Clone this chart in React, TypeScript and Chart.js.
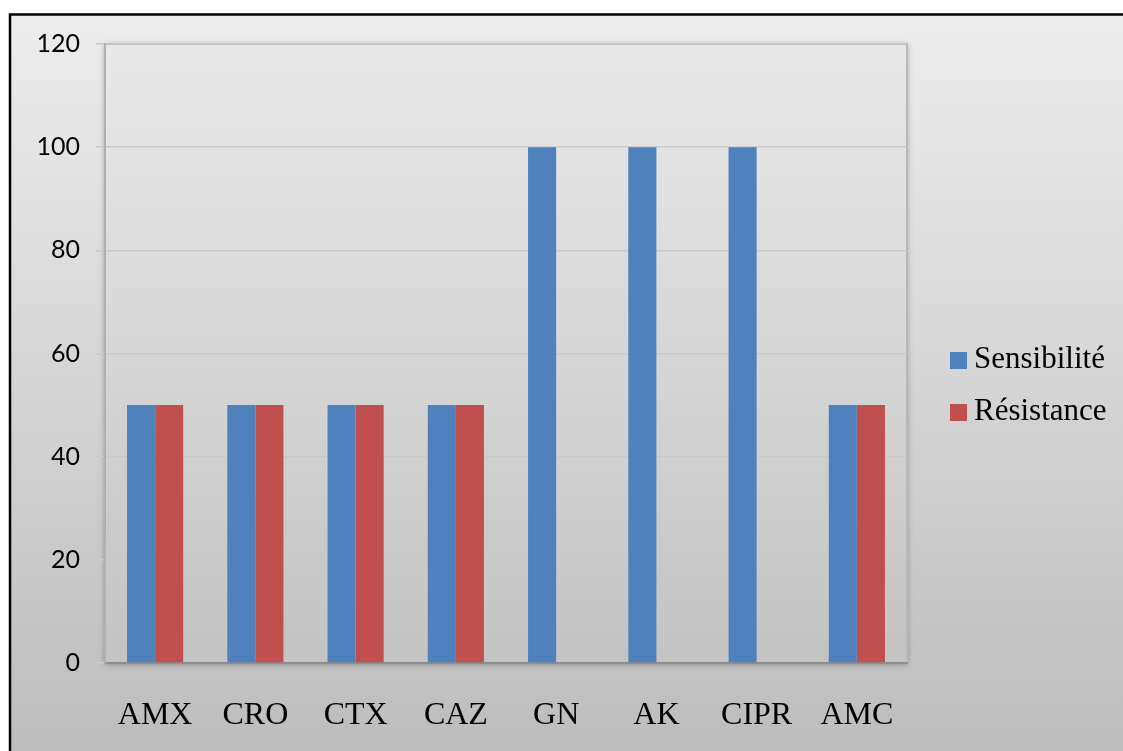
import React, { useEffect, useRef } from 'react';
import { Chart, registerables } from 'chart.js';

Chart.register(...registerables);

const categories = ['AMX', 'CRO', 'CTX', 'CAZ', 'GN', 'AK', 'CIPR', 'AMC'];
const sensibilite = [50, 50, 50, 50, 100, 100, 100, 50];
const resistance = [50, 50, 50, 50, 0, 0, 0, 50];
const seriesNames = ['Sensibilité', 'Résistance'];
const seriesColors = ['#4f81bd', '#c0504d'];
const yMin = 0;
const yMax = 120;
const yStep = 20;

const W = 1123;
const H = 751;

const backgroundPlugin = {
  id: 'bgPlugin',
  beforeDraw(chart: any) {
    const ctx = chart.ctx;
    const a = chart.chartArea;
    ctx.save();
    ctx.fillStyle = '#ffffff';
    ctx.fillRect(0, 0, W, H);
    const g = ctx.createLinearGradient(0, 15, 0, H);
    g.addColorStop(0, '#ededed');
    g.addColorStop(1, '#bdbdbd');
    ctx.fillStyle = g;
    ctx.fillRect(10, 15, W - 10, H - 15);
    ctx.strokeStyle = '#000000';
    ctx.lineWidth = 2.5;
    ctx.beginPath();
    ctx.moveTo(10, H);
    ctx.lineTo(10, 14.5);
    ctx.lineTo(W, 14.5);
    ctx.stroke();

    ctx.save();
    ctx.shadowColor = 'rgba(0,0,0,0.35)';
    ctx.shadowBlur = 6;
    ctx.shadowOffsetX = 0;
    ctx.shadowOffsetY = 1;
    const pg = ctx.createLinearGradient(0, a.top, 0, a.bottom);
    pg.addColorStop(0, '#e9e9e9');
    pg.addColorStop(1, '#c3c3c3');
    ctx.fillStyle = pg;
    ctx.fillRect(a.left, a.top, a.right - a.left, a.bottom - a.top);
    ctx.restore();
    ctx.strokeStyle = '#b8b8b8';
    ctx.lineWidth = 2;
    ctx.beginPath();
    ctx.moveTo(a.left, a.top);
    ctx.lineTo(a.right, a.top);
    ctx.lineTo(a.right, a.bottom);
    ctx.stroke();
    ctx.restore();
  },
  afterDraw(chart: any) {
    const ctx = chart.ctx;
    const a = chart.chartArea;
    ctx.save();
    ctx.font = '31px "Liberation Serif", "Times New Roman", serif';
    ctx.textBaseline = 'middle';
    ctx.textAlign = 'left';
    chart.data.datasets.forEach((ds: any, i: number) => {
      const cy = 360 + i * 52;
      const x = a.right + 43;
      ctx.fillStyle = ds.backgroundColor;
      ctx.fillRect(x, cy - 8, 17, 17);
      ctx.fillStyle = '#000000';
      ctx.fillText(ds.label, x + 24, cy);
    });
    ctx.restore();
  },
};

export default function App() {
  const ref = useRef<HTMLCanvasElement | null>(null);
  useEffect(() => {
    if (!ref.current) return;
    const chart = new Chart(ref.current, {
      type: 'bar',
      data: {
        labels: categories,
        datasets: [
          {
            label: seriesNames[0],
            data: sensibilite,
            backgroundColor: seriesColors[0],
            categoryPercentage: 0.56,
            barPercentage: 1,
          },
          {
            label: seriesNames[1],
            data: resistance,
            backgroundColor: seriesColors[1],
            categoryPercentage: 0.56,
            barPercentage: 1,
          },
        ],
      },
      options: {
        responsive: false,
        animation: false,
        devicePixelRatio: 1,
        layout: { padding: { top: 44, right: 216, left: 0, bottom: 0 } },
        plugins: {
          legend: { display: false },
          tooltip: { enabled: false },
        },
        scales: {
          x: {
            grid: { display: false, drawTicks: false },
            border: { display: true, color: '#8e8e8e', width: 2 },
            ticks: {
              color: '#000000',
              padding: 33,
              font: { family: '"Liberation Serif", "Times New Roman", serif', size: 32 },
              maxRotation: 0,
              autoSkip: false,
            },
            afterFit(scale: any) {
              scale.height = 88;
            },
          },
          y: {
            min: yMin,
            max: yMax,
            ticks: {
              stepSize: yStep,
              color: '#000000',
              padding: 16,
              font: { family: 'Lato, "Open Sans", sans-serif', size: 25 },
            },
            grid: { color: '#c9c9c9', lineWidth: 1.5, tickLength: 9, drawTicks: true },
            border: { display: true, color: '#b0b0b0', width: 2 },
            afterFit(scale: any) {
              scale.width = 105;
            },
          },
        },
      },
      plugins: [backgroundPlugin],
    } as any);
    return () => chart.destroy();
  }, []);
  return (
    <div style={{ position: 'absolute', left: 0, top: 0, width: W, height: H }}>
      <canvas ref={ref} width={W} height={H} style={{ display: 'block', width: W, height: H }} />
    </div>
  );
}
